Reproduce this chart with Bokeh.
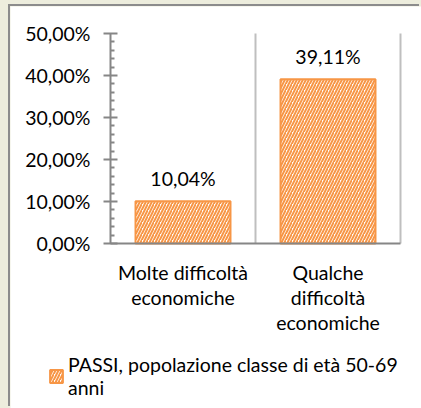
from bokeh.plotting import figure
from bokeh.models import (Range1d, FixedTicker, Legend, LegendItem, ColumnDataSource,
                          GlobalInlineStyleSheet)
from bokeh.embed import file_html
from bokeh.resources import INLINE
from bokeh.core.properties import value

categories = ["Molte difficoltà\neconomiche", "Qualche\ndifficoltà\neconomiche"]
values = [10.04, 39.11]
y_ticks = [0, 10, 20, 30, 40, 50]
series_name = "PASSI, popolazione classe di età 50-69\nanni"

FONT = "Lato"
FS = "19.5px"
ORANGE = "#F79646"
AXIS = "#868686"
BEIGE = "#EDEDDD"

# layout (pixels): the plot frame covers the whole white panel; axes sit at fixed spots
W, H = 411, 402
X0_PX, X_UNIT = 100, 145          # x=0 position from left, px per category
Y0_PX, Y_SPAN = 165, 210          # y=0 position from bottom, px for full y tick span

n = len(categories)
y_lo, y_hi = y_ticks[0], y_ticks[-1]
y_unit = Y_SPAN / (y_hi - y_lo)

x_pos = [0.5 + i for i in range(n)]
bounds_x = [i + 1 for i in range(n)]
labels = [f"{v:.2f}".replace(".", ",") + "%" for v in values]
src = ColumnDataSource(dict(x=x_pos, top=values, label=labels))

p = figure(width=W, height=H, output_backend="svg", toolbar_location=None,
           x_range=Range1d(-X0_PX / X_UNIT, (W - X0_PX) / X_UNIT),
           y_range=Range1d(y_lo - Y0_PX / y_unit, y_lo + (H - Y0_PX) / y_unit),
           min_border_left=0, min_border_right=0, min_border_top=0, min_border_bottom=0)
p.styles = {"margin-left": "10px", "margin-top": "6px",
            "box-shadow": "-2px -2px 0px 0px #8C8C8C"}
p.stylesheets = [GlobalInlineStyleSheet(css=f"body {{ background-color: {BEIGE}; }}")]
p.background_fill_color = "white"
p.border_fill_color = "white"
p.outline_line_color = None
p.grid.visible = False

# category separators (vertical grid lines)
p.segment(x0=bounds_x, y0=[y_lo] * n, x1=bounds_x, y1=[y_hi] * n,
          line_color="#BFBFBF", line_width=2)

r = p.vbar(x="x", top="top", source=src, width=0.655, fill_color="white",
           line_color=ORANGE, line_width=2, hatch_pattern="/", hatch_color=ORANGE,
           hatch_scale=6, hatch_weight=2)

p.text(x="x", y="top", text="label", source=src, text_align="center",
       text_baseline="middle", y_offset=-23, text_font=value(FONT),
       text_font_size=FS, text_color="black")

# y axis
minor = [t for t in range(y_lo, y_hi + 1, 2) if t % 10]
p.yaxis.fixed_location = 0
p.yaxis.bounds = (y_lo, y_hi)
p.yaxis.ticker = FixedTicker(ticks=y_ticks, minor_ticks=minor)
p.yaxis.major_label_overrides = {t: f"{t:.2f}".replace(".", ",") + "%" for t in y_ticks}
p.yaxis.axis_line_color = AXIS
p.yaxis.axis_line_width = 2
p.yaxis.major_tick_line_color = AXIS
p.yaxis.major_tick_line_width = 2
p.yaxis.major_tick_in = 7
p.yaxis.major_tick_out = 7
p.yaxis.minor_tick_line_color = AXIS
p.yaxis.minor_tick_line_width = 2
p.yaxis.minor_tick_in = 4
p.yaxis.minor_tick_out = 0
p.yaxis.major_label_standoff = 13
p.yaxis.major_label_text_font = FONT
p.yaxis.major_label_text_font_size = FS
p.yaxis.major_label_text_color = "black"

# x axis
p.xaxis.fixed_location = y_lo
p.xaxis.bounds = (0, n)
p.xaxis.ticker = FixedTicker(ticks=x_pos)
p.xaxis.major_label_overrides = {x: c for x, c in zip(x_pos, categories)}
p.xaxis.axis_line_color = AXIS
p.xaxis.axis_line_width = 2
p.xaxis.major_tick_line_color = None
p.xaxis.minor_tick_line_color = None
p.xaxis.major_label_standoff = 11
p.xaxis.major_label_text_font = FONT
p.xaxis.major_label_text_font_size = FS
p.xaxis.major_label_text_color = "black"
p.xaxis.major_label_text_line_height = 1.1

legend = Legend(items=[LegendItem(label=series_name, renderers=[r])],
                location=(38, 9), glyph_width=16, glyph_height=16,
                label_text_font=FONT, label_text_font_size=FS, label_standoff=4,
                label_text_line_height=1.5, label_text_color="black",
                border_line_color=None, background_fill_alpha=0, padding=0, margin=0)
p.add_layout(legend)

open("out.html", "w").write(file_html(p, INLINE))
